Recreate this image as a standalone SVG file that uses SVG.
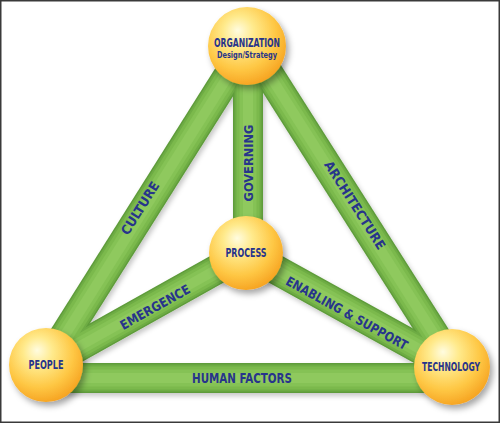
<svg xmlns="http://www.w3.org/2000/svg" xmlns:xlink="http://www.w3.org/1999/xlink" width="500" height="423" viewBox="0 0 500 423">
<style>
.e{stroke:#5e9c3a;stroke-width:30;fill:none}
.m1{stroke:#6eac44;stroke-width:27;fill:none}
.m{stroke:#7bb94c;stroke-width:23;fill:none}
.m2{stroke:#85c255;stroke-width:17;fill:none}
.h{stroke:#8fc95e;stroke-width:10;fill:none}
.lbl{font-family:"DejaVu Sans Condensed","DejaVu Sans",sans-serif;font-weight:bold;fill:#27348b;font-size:13px;text-anchor:middle}
.nt{font-family:"DejaVu Sans Condensed","DejaVu Sans",sans-serif;font-weight:bold;fill:#27348b;text-anchor:middle}
.ball{fill:url(#ballg);filter:url(#sh)}
</style>
<defs>
<radialGradient id="ballg" cx="0.42" cy="0.36" r="0.66" fx="0.38" fy="0.3">
<stop offset="0" stop-color="#fffce0"/>
<stop offset="0.3" stop-color="#ffea8c"/>
<stop offset="0.7" stop-color="#fec744"/>
<stop offset="1" stop-color="#f6a321"/>
</radialGradient>
<filter id="sh" x="-30%" y="-30%" width="160%" height="160%">
<feDropShadow dx="3" dy="4" stdDeviation="3" flood-color="#000" flood-opacity="0.35"/>
</filter>
<filter id="bsh" x="-10%" y="-10%" width="120%" height="120%">
<feDropShadow dx="2" dy="3" stdDeviation="2.5" flood-color="#000" flood-opacity="0.22"/>
</filter>
<line id="b-culture" x1="247" y1="46" x2="46" y2="365"/>
<line id="b-arch" x1="251" y1="46" x2="455" y2="367"/>
<line id="b-gov" x1="248" y1="46" x2="248" y2="253"/>
<line id="b-emer" x1="246" y1="253" x2="46" y2="365"/>
<line id="b-enab" x1="246" y1="253" x2="452" y2="367"/>
<line id="b-human" x1="46" y1="378" x2="452" y2="378"/>
</defs>
<rect x="0" y="0" width="500" height="423" fill="#ffffff"/>
<rect x="0.75" y="0.75" width="498.5" height="421.5" fill="none" stroke="#3a3a3a" stroke-width="1.5"/>
<g id="connectors">
<g filter="url(#bsh)">
<use xlink:href="#b-culture" class="e"/><use xlink:href="#b-arch" class="e"/><use xlink:href="#b-gov" class="e"/>
<use xlink:href="#b-emer" class="e"/><use xlink:href="#b-enab" class="e"/><use xlink:href="#b-human" class="e"/>
</g>
<use xlink:href="#b-culture" class="m1"/><use xlink:href="#b-arch" class="m1"/><use xlink:href="#b-gov" class="m1"/>
<use xlink:href="#b-emer" class="m1"/><use xlink:href="#b-enab" class="m1"/><use xlink:href="#b-human" class="m1"/>
<use xlink:href="#b-culture" class="m"/><use xlink:href="#b-arch" class="m"/><use xlink:href="#b-gov" class="m"/>
<use xlink:href="#b-emer" class="m"/><use xlink:href="#b-enab" class="m"/><use xlink:href="#b-human" class="m"/>
<use xlink:href="#b-culture" class="m2"/><use xlink:href="#b-arch" class="m2"/><use xlink:href="#b-gov" class="m2"/>
<use xlink:href="#b-emer" class="m2"/><use xlink:href="#b-enab" class="m2"/><use xlink:href="#b-human" class="m2"/>
<use xlink:href="#b-culture" class="h"/><use xlink:href="#b-arch" class="h"/><use xlink:href="#b-gov" class="h"/>
<use xlink:href="#b-emer" class="h"/><use xlink:href="#b-enab" class="h"/><use xlink:href="#b-human" class="h"/>
<text class="lbl" transform="translate(140,208) rotate(-57.8)" dy="4.7" textLength="60" lengthAdjust="spacingAndGlyphs">CULTURE</text>
<text class="lbl" transform="translate(355,205) rotate(57.5)" dy="4.7" textLength="102" lengthAdjust="spacingAndGlyphs">ARCHITECTURE</text>
<text class="lbl" transform="translate(248,163) rotate(-90)" dy="4.7" textLength="77" lengthAdjust="spacingAndGlyphs">GOVERNING</text>
<text class="lbl" transform="translate(155,307) rotate(-29.2)" dy="4.7" textLength="78" lengthAdjust="spacingAndGlyphs">EMERGENCE</text>
<text class="lbl" transform="translate(347,313) rotate(29)" dy="4.7" textLength="137" lengthAdjust="spacingAndGlyphs">ENABLING &amp; SUPPORT</text>
<text class="lbl" x="242" y="383" textLength="100" lengthAdjust="spacingAndGlyphs" style="font-size:14px">HUMAN FACTORS</text>
</g>
<g id="organization">
<circle class="ball" cx="247" cy="46" r="39"/>
<text class="nt" x="247" y="47" font-size="12" textLength="66" lengthAdjust="spacingAndGlyphs">ORGANIZATION</text>
<text class="nt" x="247" y="58" font-size="9.5" textLength="60" lengthAdjust="spacingAndGlyphs">Design/Strategy</text>
</g>
<g id="process">
<circle class="ball" cx="246" cy="253" r="37"/>
<text class="nt" x="246" y="257" font-size="11.5" textLength="41" lengthAdjust="spacingAndGlyphs">PROCESS</text>
</g>
<g id="people">
<circle class="ball" cx="46" cy="365" r="37"/>
<text class="nt" x="46" y="369" font-size="12" textLength="35" lengthAdjust="spacingAndGlyphs">PEOPLE</text>
</g>
<g id="technology">
<circle class="ball" cx="452" cy="367" r="38"/>
<text class="nt" x="451" y="371" font-size="12.5" textLength="58" lengthAdjust="spacingAndGlyphs">TECHNOLOGY</text>
</g>
</svg>
